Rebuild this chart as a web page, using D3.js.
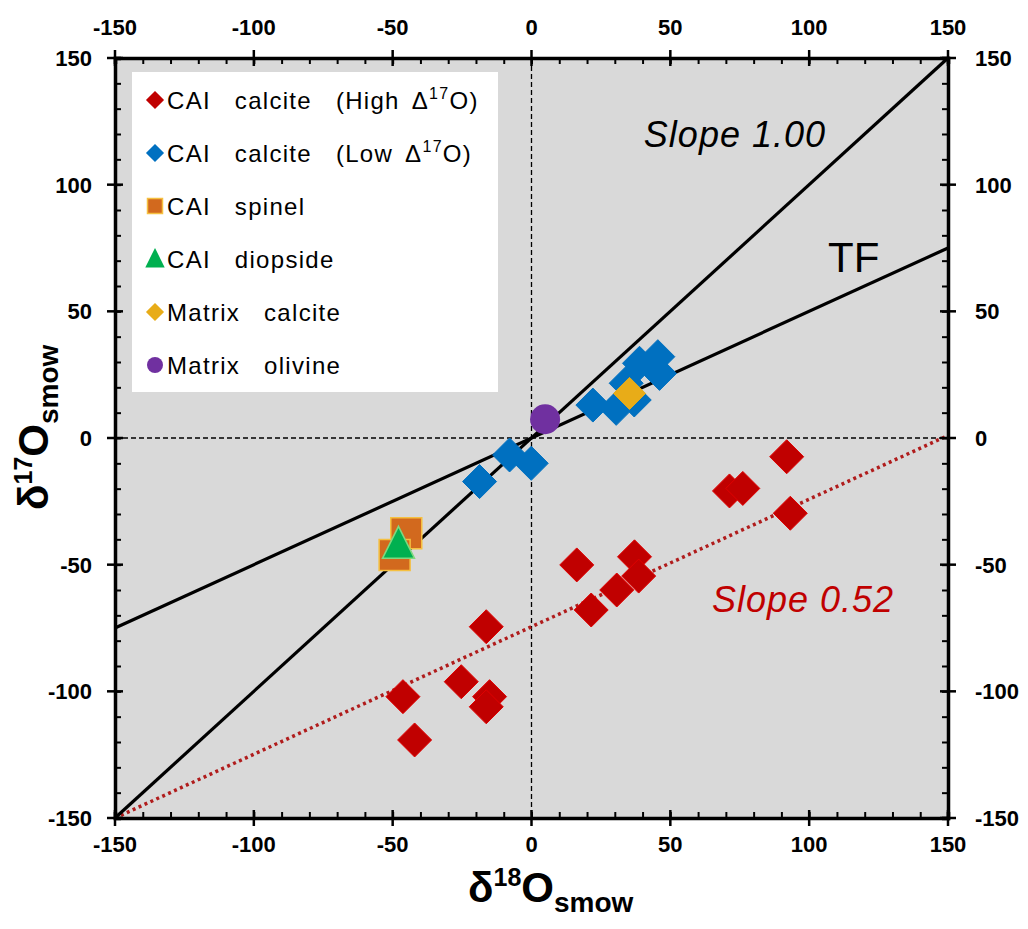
<!DOCTYPE html>
<html>
<head>
<meta charset="utf-8">
<script src="https://cdn.jsdelivr.net/npm/d3@7"></script>
<style>
  body { margin: 0; background: #fff; }
  text { font-family: "Liberation Sans", Arial, sans-serif; }
</style>
</head>
<body>
<div id="plot"></div>
<script>
// data
const highX = [-16.3, -25.3, -46.3, -15.1, -16.3, -42.1, 16.3, 37.1, 38.6, 30.7, 21.5, 71.3, 76.1, 91.9, 93.2];
const highY = [-74.5, -96.2, -102.1, -102.1, -106.1, -119.2, -50.1, -46.9, -54.5, -60.0, -67.9, -20.9, -19.9, -7.4, -29.7];
const lowX = [-18.7, -7.9, -0.1, 22.1, 30.5, 37.0, 34.1, 38.9, 45.5, 46.1];
const lowY = [-17.2, -6.7, -10.0, 13.0, 11.7, 15.0, 21.6, 29.5, 32.1, 25.5];
const spinelX = [-45.1, -49.3];
const spinelY = [-37.6, -46.2];
const diopsideX = [-47.9];
const diopsideY = [-41.8];
const matrixCalciteX = [35.3];
const matrixCalciteY = [17.6];
const olivineX = [4.9];
const olivineY = [7.4];

// reference lines
const slope1Line = [[-150, -150], [150, 150]];
const tfLine = [[-150, -75], [150, 75]];
const slope052Line = [[-150, -150], [150, 1]];

const tickValues = [-150, -100, -50, 0, 50, 100, 150];
const legendLabels = ["CAI  calcite  (High Δ", "CAI  calcite  (Low Δ", "CAI  spinel", "CAI  diopside", "Matrix  calcite", "Matrix  olivine"];

const width = 1028, height = 929;
const svg = d3.select("#plot").append("svg")
    .attr("width", width)
    .attr("height", height);

const x = d3.scaleLinear().domain([-150, 150]).range([115, 948]);
const y = d3.scaleLinear().domain([-150, 150]).range([818, 58]);

// plot background
svg.append("rect")
    .attr("x", x(-150)).attr("y", y(150))
    .attr("width", x(150) - x(-150)).attr("height", y(-150) - y(150))
    .attr("fill", "#d9d9d9");

// zero lines
svg.append("line")
    .attr("x1", x(0)).attr("x2", x(0)).attr("y1", y(150)).attr("y2", y(-150))
    .attr("stroke", "#000").attr("stroke-width", 1.3).attr("stroke-dasharray", "5,3");
svg.append("line")
    .attr("x1", x(-150)).attr("x2", x(150)).attr("y1", y(0)).attr("y2", y(0))
    .attr("stroke", "#000").attr("stroke-width", 1.3).attr("stroke-dasharray", "5,3");

// legend box
const lg = svg.append("g");
lg.append("rect")
    .attr("x", 132).attr("y", 72).attr("width", 366).attr("height", 320)
    .attr("fill", "#fff");

const line = d3.line().x(d => x(d[0])).y(d => y(d[1]));
svg.append("path").datum(slope052Line).attr("d", line)
    .attr("fill", "none").attr("stroke", "#b01c1c").attr("stroke-width", 3.5)
    .attr("stroke-dasharray", "3,3.5");
svg.append("path").datum(slope1Line).attr("d", line)
    .attr("fill", "none").attr("stroke", "#000").attr("stroke-width", 3.2);
svg.append("path").datum(tfLine).attr("d", line)
    .attr("fill", "none").attr("stroke", "#000").attr("stroke-width", 3.2);

// marker helpers
function diamond(r) { return `M0,${-r}L${r},0L0,${r}L${-r},0Z`; }
function square(r) { return `M${-r},${-r}H${r}V${r}H${-r}Z`; }
function triangle(r) { return `M0,${-r * 1.1}L${r},${r * 0.9}L${-r},${r * 0.9}Z`; }

function drawPoints(xs, ys, shape, fill, stroke, sw) {
    svg.append("g").selectAll("path")
        .data(xs.map((v, i) => [v, ys[i]]))
        .enter().append("path")
        .attr("transform", d => `translate(${x(d[0])},${y(d[1])})`)
        .attr("d", shape)
        .attr("fill", fill)
        .attr("stroke", stroke)
        .attr("stroke-width", sw);
}

drawPoints(lowX, lowY, diamond(17), "#0070c0", "#0070c0", 1);
drawPoints(matrixCalciteX, matrixCalciteY, diamond(16), "#e8ac18", "#e8ac18", 1);
drawPoints(highX, highY, diamond(17), "#c00000", "#e00000", 1);
drawPoints(spinelX, spinelY, square(15.5), "#d2691e", "#f5c040", 1.5);
drawPoints(diopsideX, diopsideY, triangle(16), "#00b050", "#7fd87f", 1.5);
svg.append("g").selectAll("circle")
    .data(olivineX.map((v, i) => [v, olivineY[i]]))
    .enter().append("circle")
    .attr("cx", d => x(d[0])).attr("cy", d => y(d[1])).attr("r", 15)
    .attr("fill", "#7030a0");

// axes
const minor = d3.range(-150, 151, 10);
function axisPair(axisFn, transform, labels) {
    const g = svg.append("g").attr("transform", transform);
    g.call(axisFn(labels === "h" ? x : y).tickValues(minor).tickSize(6).tickFormat(""));
    g.selectAll(".tick line").attr("stroke-width", 2);
    g.select(".domain").attr("stroke-width", 3.5);
    return g;
}
const axB = axisPair(d3.axisTop, `translate(0,${y(-150)})`, "h");
const axT = axisPair(d3.axisBottom, `translate(0,${y(150)})`, "h");
const axL = axisPair(d3.axisRight, `translate(${x(-150)},0)`, "v");
const axR = axisPair(d3.axisLeft, `translate(${x(150)},0)`, "v");

// major ticks that cross the frame
[[axB, "h"], [axT, "h"], [axL, "v"], [axR, "v"]].forEach(([g, o]) => {
    g.selectAll(".maj").data(tickValues).enter().append("line")
        .attr("x1", d => o === "h" ? x(d) : -8)
        .attr("x2", d => o === "h" ? x(d) : 8)
        .attr("y1", d => o === "h" ? -8 : y(d))
        .attr("y2", d => o === "h" ? 8 : y(d))
        .attr("stroke", "#000").attr("stroke-width", 2.5);
});

const tickFont = g => g.attr("font-size", 22).attr("font-weight", "bold").attr("fill", "#000");
svg.append("g").call(tickFont).selectAll("text").data(tickValues).enter().append("text")
    .attr("x", d => x(d)).attr("y", 852).attr("text-anchor", "middle").text(d => d);
svg.append("g").call(tickFont).selectAll("text").data(tickValues).enter().append("text")
    .attr("x", d => x(d)).attr("y", 35).attr("text-anchor", "middle").text(d => d);
svg.append("g").call(tickFont).selectAll("text").data(tickValues).enter().append("text")
    .attr("x", 92).attr("y", d => y(d) + 8).attr("text-anchor", "end").text(d => d);
svg.append("g").call(tickFont).selectAll("text").data(tickValues).enter().append("text")
    .attr("x", 975).attr("y", d => y(d) + 8).attr("text-anchor", "start").text(d => d);

// axis titles
const xt = svg.append("text").attr("x", 468).attr("y", 902)
    .attr("font-size", 42).attr("font-weight", "bold");
xt.append("tspan").text("δ");
xt.append("tspan").attr("font-size", 25).attr("dy", -16).text("18");
xt.append("tspan").attr("dy", 16).text("O");
xt.append("tspan").attr("font-size", 28).attr("dy", 10).text("smow");

const yt = svg.append("text").attr("transform", "translate(48,510) rotate(-90)")
    .attr("font-size", 42).attr("font-weight", "bold");
yt.append("tspan").text("δ");
yt.append("tspan").attr("font-size", 25).attr("dy", -16).text("17");
yt.append("tspan").attr("dy", 16).text("O");
yt.append("tspan").attr("font-size", 28).attr("dy", 10).text("smow");

// annotations
svg.append("text").attr("x", 826).attr("y", 147).attr("text-anchor", "end")
    .attr("font-size", 36).attr("letter-spacing", 1).attr("font-style", "italic").text("Slope 1.00");
svg.append("text").attr("x", 828).attr("y", 272)
    .attr("font-size", 42).text("TF");
svg.append("text").attr("x", 712).attr("y", 612)
    .attr("font-size", 36).attr("letter-spacing", 1).attr("font-style", "italic")
    .attr("fill", "#c00000").text("Slope 0.52");

// legend entries
const legendShapes = [diamond(8), diamond(8), square(7.5), triangle(8.5), diamond(8), null];
const legendFill = ["#c00000", "#0070c0", "#d2691e", "#00b050", "#e8ac18", "#7030a0"];
const legendStroke = ["#c00000", "#0070c0", "#f5c040", "#00b050", "#e8ac18", "#7030a0"];
legendLabels.forEach((lab, i) => {
    const cy = 100 + i * 53;
    if (legendShapes[i]) {
        lg.append("path").attr("transform", `translate(155,${cy})`)
            .attr("d", legendShapes[i]).attr("fill", legendFill[i])
            .attr("stroke", legendStroke[i]).attr("stroke-width", 1.5);
    } else {
        lg.append("circle").attr("cx", 155).attr("cy", cy).attr("r", 8).attr("fill", legendFill[i]);
    }
    const t = lg.append("text").attr("x", 167).attr("y", cy + 9)
        .attr("font-size", 24).attr("letter-spacing", 1.3).attr("word-spacing", 4)
        .attr("xml:space", "preserve");
    t.append("tspan").text(lab);
    if (i < 2) {
        t.append("tspan").attr("font-size", 16).attr("dy", -10).text("17");
        t.append("tspan").attr("dy", 10).text("O)");
    }
});
</script>
</body>
</html>
